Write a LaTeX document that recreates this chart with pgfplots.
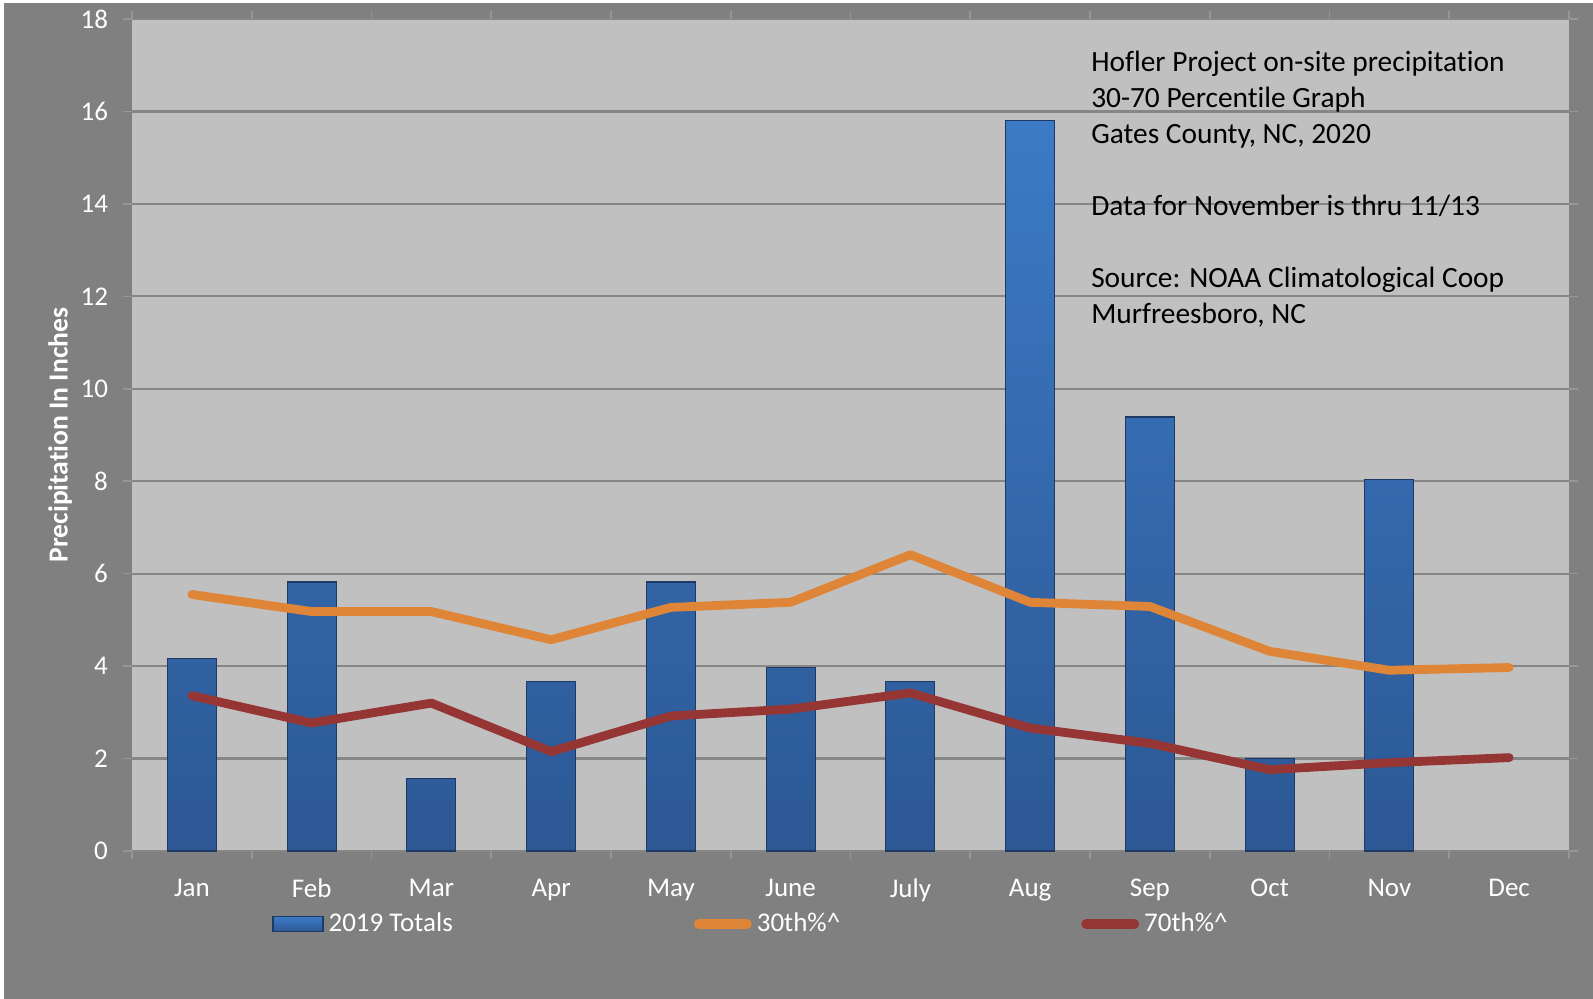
\documentclass[border=0pt]{standalone}
\usepackage{pgfplots}
\pgfplotsset{compat=1.18}
\usepackage{fontspec}
\setmainfont{Carlito}[Ligatures=NoCommon]

\definecolor{outergray}{RGB}{128,128,128}
\definecolor{plotgray}{RGB}{192,192,192}
\definecolor{gridgray}{RGB}{134,134,134}
\definecolor{tickgray}{RGB}{150,150,150}
\definecolor{barTop}{RGB}{60,122,198}
\definecolor{barBot}{RGB}{44,88,148}
\definecolor{barEdge}{RGB}{30,58,100}
\definecolor{orangeline}{RGB}{222,133,55}
\definecolor{redline}{RGB}{150,54,52}

\begin{document}
\begin{tikzpicture}
% background: picture is 1593x999 px at 0.5pt per px
\fill[white] (-66pt,-74pt) rectangle (730.5pt,425.5pt);
\fill[outergray] (-64pt,-74pt) rectangle (730.5pt,424pt);

\begin{axis}[
    scale only axis,
    width=718.5pt, height=416pt,
    xmin=-0.5, xmax=11.5,
    ymin=0, ymax=18,
    axis background/.style={fill=plotgray},
    axis line style={draw=none},
    ytick={0,2,...,18},
    ymajorgrids=true,
    major grid style={gridgray, line width=1.1pt},
    xtick={0,...,11},
    xticklabels={Jan,Feb,Mar,Apr,May,June,July,Aug,Sep,Oct,Nov,Dec},
    minor xtick={-0.5,0.5,...,11.5},
    x tick style={draw=none},
    minor x tick style={draw=tickgray, line width=0.8pt},
    y tick style={draw=tickgray, line width=0.8pt},
    tick align=outside,
    major tick length=4.5pt,
    minor tick length=4pt,
    ticklabel style={font=\fontsize{13.5}{16}\selectfont, text=white},
    xticklabel style={yshift=-6pt},
    yticklabel style={xshift=-4pt},
    /pgf/number format/assume math mode=true,
    ylabel={\textbf{Precipitation In Inches}},
    ylabel style={at={(axis description cs:-0.050,0.5)}, anchor=center,
        font=\fontsize{13.8}{16}\selectfont, text=white},
    legend columns=3,
    legend style={at={(0,0)}, anchor=west, xshift=70pt, yshift=-36.5pt,
        draw=none, fill=none, inner sep=0pt,
        font=\fontsize{13.5}{16}\selectfont, text=white,
        /tikz/every even column/.append style={column sep=118pt},
        nodes={inner xsep=2.5pt}},
    clip=false,
]
\addplot[ybar, bar width=24.5pt, draw=barEdge, line width=0.6pt,
    top color=barTop, bottom color=barBot,
    legend image code/.code={\draw[draw=barEdge, top color=barTop, bottom color=barBot]
        (0pt,-3.75pt) rectangle (25pt,3.75pt);}]
    coordinates {(0,4.17) (1,5.82) (2,1.56) (3,3.67) (4,5.82) (5,3.97)
                 (6,3.67) (7,15.80) (8,9.39) (9,2.00) (10,8.03)};
\addlegendentry{2019 Totals}

\addplot[orangeline, line width=4.4pt, line join=round, line cap=round,
    legend image code/.code={\draw[orangeline, line width=5pt, line cap=round] (2.5pt,0pt) -- (26.5pt,0pt);}]
    coordinates {(0,5.55) (1,5.18) (2,5.18) (3,4.57) (4,5.27) (5,5.38)
                 (6,6.41) (7,5.38) (8,5.29) (9,4.32) (10,3.91) (11,3.97)};
\addlegendentry{30th\%\^{}}

\addplot[redline, line width=4.4pt, line join=round, line cap=round,
    legend image code/.code={\draw[redline, line width=5pt, line cap=round] (2.5pt,0pt) -- (26.5pt,0pt);}]
    coordinates {(0,3.36) (1,2.77) (2,3.20) (3,2.15) (4,2.92) (5,3.07)
                 (6,3.42) (7,2.66) (8,2.33) (9,1.76) (10,1.91) (11,2.02)};
\addlegendentry{70th\%\^{}}

\node[anchor=north west, align=left, inner sep=0pt, text=black,
      font=\fontsize{14.7}{18}\selectfont]
    at (axis cs:7.507,17.32)
    {Hofler Project on-site precipitation\\
     30-70 Percentile Graph\\
     Gates County, NC, 2020\\
     \mbox{}\\
     Data for November is thru 11/13\\
     \mbox{}\\
     Source: NOAA Climatological Coop\\
     Murfreesboro, NC};
\end{axis}

\pgfresetboundingbox
\path[use as bounding box] (-66pt,-74pt) rectangle (730.5pt,425.5pt);
\end{tikzpicture}
\end{document}
